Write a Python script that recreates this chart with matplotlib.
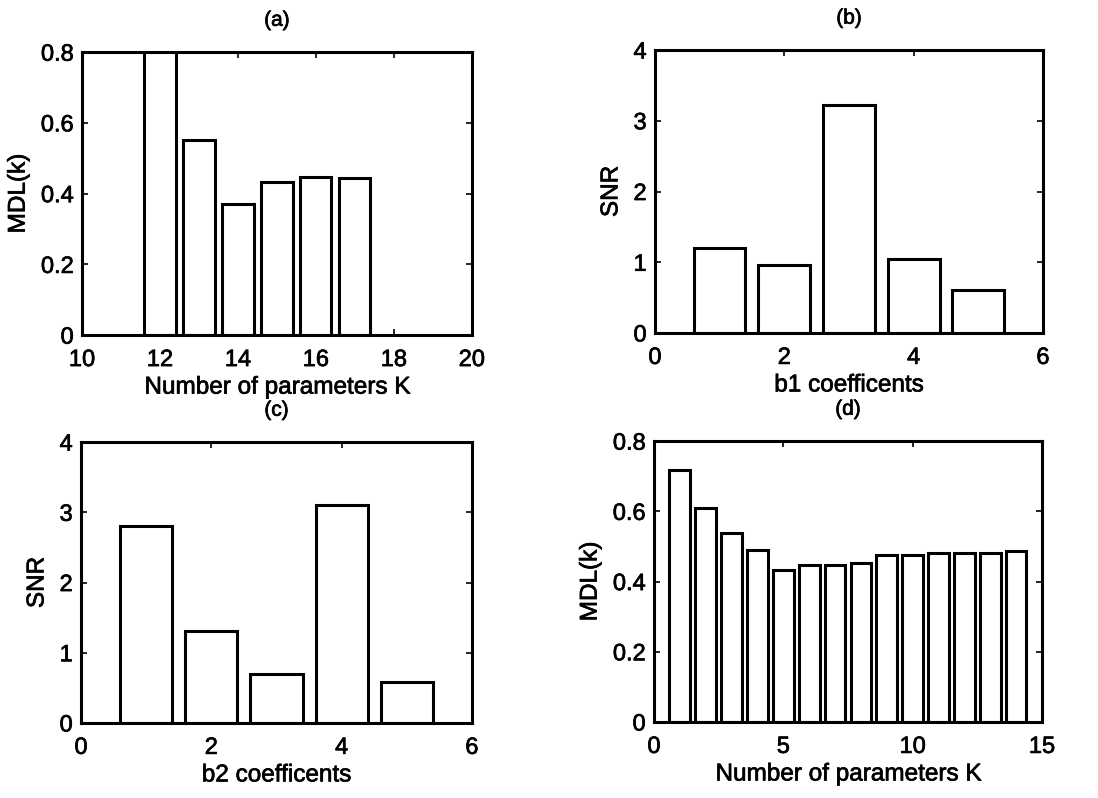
import matplotlib
matplotlib.use("Agg")
from matplotlib import pyplot as plt
from matplotlib import patheffects
import numpy as np

plt.rcParams['font.family'] = ['Liberation Sans', 'DejaVu Sans']

# (a) MDL for K = 12..17 (the K=12 value runs past the top of the axis)
k_a = [12, 13, 14, 15, 16, 17]
mdl_a = [0.95, 0.552, 0.370, 0.433, 0.446, 0.445]

# (b) SNR of the b1 coefficients
idx_b1 = [1, 2, 3, 4, 5]
snr_b1 = [1.20, 0.965, 3.22, 1.04, 0.61]

# (c) SNR of the b2 coefficients
idx_b2 = [1, 2, 3, 4, 5]
snr_b2 = [2.80, 1.31, 0.70, 3.10, 0.58]

# (d) MDL for K = 1..14
k_d = list(range(1, 15))
mdl_d = [0.719, 0.610, 0.539, 0.490, 0.433, 0.447, 0.447, 0.452,
         0.475, 0.475, 0.480, 0.480, 0.480, 0.487]

fig = plt.figure(figsize=(10.98, 7.98), dpi=100)

ax_pos = {
    'a': [0.0747, 0.580, 0.355, 0.3546],
    'b': [0.5965, 0.5827, 0.3534, 0.3546],
    'c': [0.0738, 0.094, 0.356, 0.352],
    'd': [0.5956, 0.0952, 0.3534, 0.352],
}

# slightly heavier strokes on the text, like a printed figure
thick = [patheffects.withStroke(linewidth=0.5, foreground='black')]


def bar_panel(pos, x, y, xlim, ylim, xticks, yticks, yticklabels,
              xlabel, ylabel, title):
    ax = fig.add_axes(pos)
    ax.bar(x, y, width=0.8, facecolor='white', edgecolor='black',
           linewidth=2.2, zorder=2)
    ax.set_xlim(*xlim)
    ax.set_ylim(*ylim)
    ax.set_xticks(xticks)
    ax.set_yticks(yticks)
    ax.set_yticklabels(yticklabels)
    ax.tick_params(direction='in', length=4, width=1.2, labelsize=17,
                   top=True, right=True)
    ax.tick_params(axis='x', pad=10)
    ax.tick_params(axis='y', pad=6)
    for s in ax.spines.values():
        s.set_linewidth(2.2)
    ax.set_xlabel(xlabel, fontsize=17.5, labelpad=4)
    ax.set_ylabel(ylabel, fontsize=17.5, labelpad=8)
    ax.set_title(title, fontsize=15, pad=19)
    texts = [ax.xaxis.label, ax.yaxis.label, ax.title]
    texts += ax.get_xticklabels() + ax.get_yticklabels()
    for t in texts:
        t.set_path_effects(thick)
    return ax


bar_panel(ax_pos['a'], k_a, mdl_a, (10, 20), (0, 0.8),
          [10, 12, 14, 16, 18, 20], [0, 0.2, 0.4, 0.6, 0.8],
          ['0', '0.2', '0.4', '0.6', '0.8'],
          'Number of parameters K', 'MDL(k)', '(a)')

bar_panel(ax_pos['b'], idx_b1, snr_b1, (0, 6), (0, 4),
          [0, 2, 4, 6], [0, 1, 2, 3, 4], ['0', '1', '2', '3', '4'],
          'b1 coefficents', 'SNR', '(b)')

bar_panel(ax_pos['c'], idx_b2, snr_b2, (0, 6), (0, 4),
          [0, 2, 4, 6], [0, 1, 2, 3, 4], ['0', '1', '2', '3', '4'],
          'b2 coefficents', 'SNR', '(c)')

bar_panel(ax_pos['d'], k_d, mdl_d, (0, 15), (0, 0.8),
          [0, 5, 10, 15], [0, 0.2, 0.4, 0.6, 0.8],
          ['0', '0.2', '0.4', '0.6', '0.8'],
          'Number of parameters K', 'MDL(k)', '(d)')

fig.savefig('out.png', dpi=100)
